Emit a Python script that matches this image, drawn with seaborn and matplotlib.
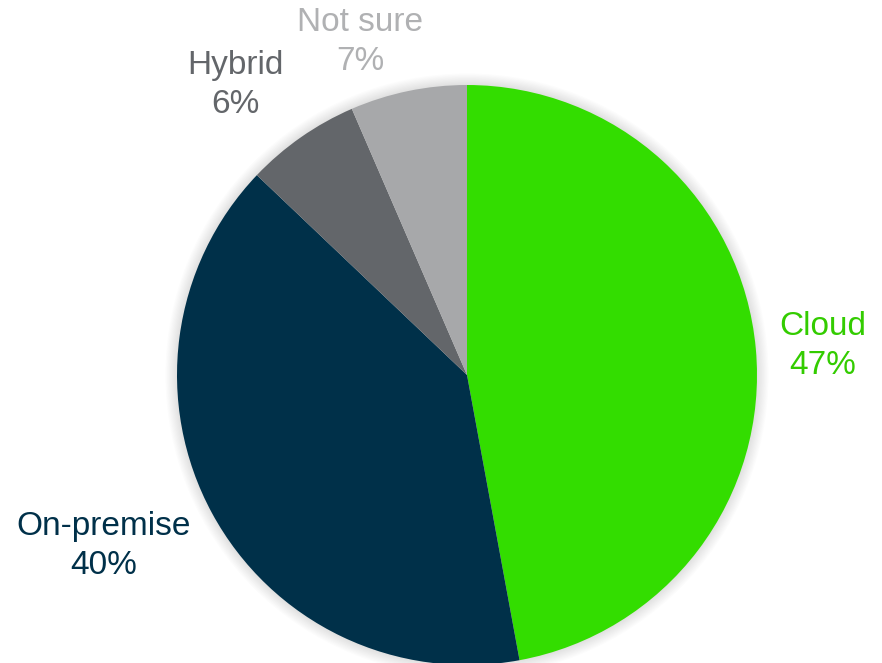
import matplotlib.pyplot as plt
import matplotlib.patches as mpatches
import seaborn as sns

sns.set_style("white")
plt.rcParams['font.family'] = ['Liberation Sans', 'DejaVu Sans']

# Data
categories = ['Cloud', 'On-premise', 'Hybrid', 'Not sure']
shares = [47.1, 40.0, 6.4, 6.5]
pct_labels = ['47%', '40%', '6%', '7%']
slice_colors = ['#33DD00', '#003049', '#63666A', '#A7A8AA']
text_colors = ['#33CC00', '#003049', '#63666A', '#B0B1B3']

fig = plt.figure(figsize=(8.82, 6.63), dpi=100)
ax = fig.add_axes([0, 0, 1, 1])

# soft shadow around the rim
for i in range(10):
    r = 1.0 + 0.004 * (i + 1)
    ax.add_patch(mpatches.Circle((0, 0), r, color='black', alpha=0.012, lw=0, zorder=0))

ax.pie(shares, colors=slice_colors, startangle=90, counterclock=False,
       radius=1.0, wedgeprops=dict(linewidth=0, zorder=1))

label_pos = {
    'Cloud': (1.228, 0.100),
    'On-premise': (-1.252, -0.590),
    'Hybrid': (-0.797, 1.000),
    'Not sure': (-0.369, 1.148),
}
for cat, lab, col in zip(categories, pct_labels, text_colors):
    x, y = label_pos[cat]
    ax.text(x, y, f"{cat}\n{lab}", color=col, fontsize=24, ha='center', va='center',
            linespacing=1.32)

ax.set_xlim(-467 / 290, (882 - 467) / 290)
ax.set_ylim(-(663 - 375) / 290, 375 / 290)
ax.set_aspect('auto')
ax.axis('off')

fig.savefig('out.png', dpi=100)
